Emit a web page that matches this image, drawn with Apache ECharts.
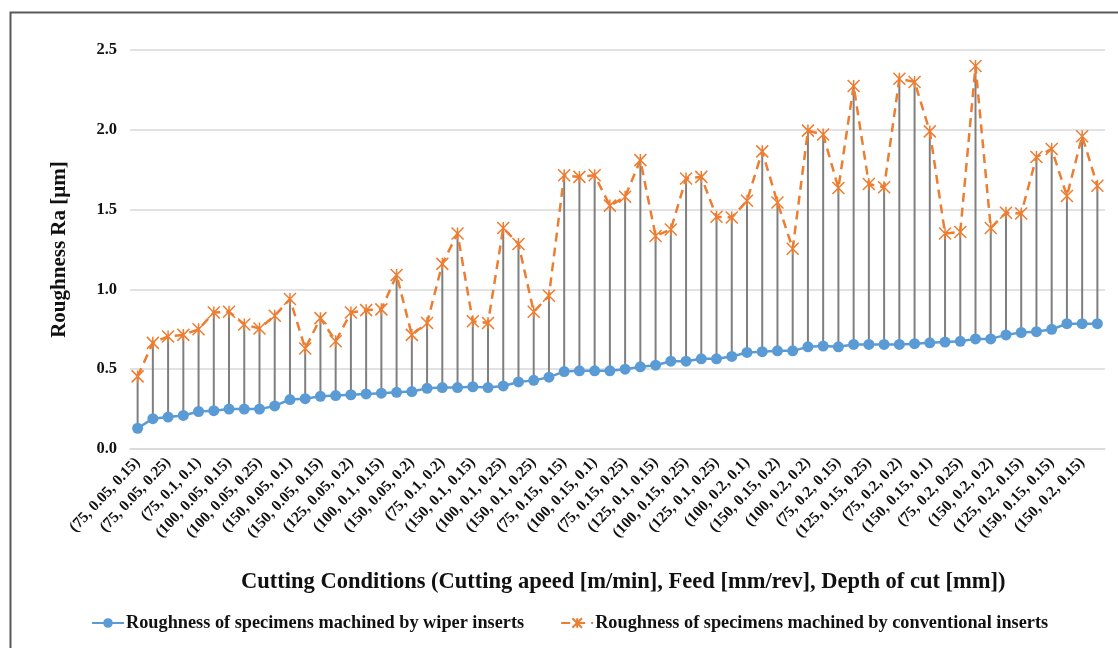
<!DOCTYPE html>
<html>
<head>
<meta charset="utf-8">
<script src="https://cdn.jsdelivr.net/npm/echarts@6/dist/echarts.min.js"></script>
<style>
html,body{margin:0;padding:0;background:#fff;}
#chart{width:1118px;height:648px;}
</style>
</head>
<body>
<div id="chart"></div>
<script>
const categories = [
 "(75, 0.05, 0.15)","(75, 0.05, 0.1)","(75, 0.05, 0.25)","(75, 0.05, 0.2)",
 "(75, 0.1, 0.1)","(100, 0.05, 0.1)","(100, 0.05, 0.15)","(100, 0.05, 0.2)",
 "(100, 0.05, 0.25)","(125, 0.05, 0.1)","(150, 0.05, 0.1)","(125, 0.05, 0.15)",
 "(150, 0.05, 0.15)","(125, 0.05, 0.25)","(125, 0.05, 0.2)","(150, 0.05, 0.25)",
 "(100, 0.1, 0.15)","(75, 0.1, 0.15)","(150, 0.05, 0.2)","(100, 0.1, 0.1)",
 "(75, 0.1, 0.2)","(75, 0.1, 0.25)","(150, 0.1, 0.15)","(100, 0.1, 0.2)",
 "(100, 0.1, 0.25)","(125, 0.1, 0.1)","(150, 0.1, 0.25)","(125, 0.1, 0.2)",
 "(75, 0.15, 0.15)","(150, 0.1, 0.1)","(100, 0.15, 0.1)","(150, 0.1, 0.2)",
 "(75, 0.15, 0.25)","(75, 0.15, 0.1)","(125, 0.1, 0.15)","(75, 0.15, 0.2)",
 "(100, 0.15, 0.25)","(100, 0.15, 0.15)","(125, 0.1, 0.25)","(100, 0.15, 0.2)",
 "(100, 0.2, 0.1)","(125, 0.15, 0.1)","(150, 0.15, 0.2)","(125, 0.15, 0.15)",
 "(100, 0.2, 0.2)","(125, 0.15, 0.2)","(75, 0.2, 0.15)","(150, 0.15, 0.25)",
 "(125, 0.15, 0.25)","(75, 0.2, 0.1)","(75, 0.2, 0.2)","(100, 0.2, 0.15)",
 "(150, 0.15, 0.1)","(100, 0.2, 0.25)","(75, 0.2, 0.25)","(125, 0.2, 0.1)",
 "(150, 0.2, 0.2)","(125, 0.2, 0.2)","(125, 0.2, 0.15)","(125, 0.2, 0.25)",
 "(150, 0.15, 0.15)","(150, 0.2, 0.1)","(150, 0.2, 0.15)","(150, 0.2, 0.25)"
];
const wiperValues = [
 0.13,0.19,0.20,0.21,0.235,0.24,0.25,0.25,0.25,0.27,0.31,0.315,0.33,0.335,0.34,0.345,
 0.35,0.355,0.36,0.38,0.385,0.385,0.39,0.385,0.395,0.42,0.43,0.45,0.485,0.49,0.49,0.49,
 0.50,0.515,0.525,0.55,0.55,0.565,0.565,0.58,0.605,0.61,0.615,0.615,0.64,0.645,0.64,0.655,
 0.655,0.655,0.655,0.66,0.665,0.67,0.675,0.69,0.69,0.715,0.73,0.735,0.75,0.785,0.785,0.785
];
const conventionalValues = [
 0.455,0.665,0.705,0.715,0.75,0.855,0.86,0.78,0.755,0.835,0.94,0.63,0.82,0.675,0.855,0.87,
 0.875,1.09,0.715,0.79,1.16,1.35,0.80,0.79,1.385,1.285,0.86,0.96,1.715,1.705,1.715,1.525,
 1.58,1.81,1.335,1.375,1.695,1.705,1.455,1.45,1.555,1.865,1.545,1.255,1.995,1.97,1.635,2.275,
 1.66,1.64,2.32,2.30,1.99,1.35,1.36,2.40,1.385,1.48,1.475,1.83,1.88,1.585,1.96,1.65
];
const yTicks = [0, 0.5, 1.0, 1.5, 2.0, 2.5];
const seriesNames = [
 "Roughness of specimens machined by wiper inserts",
 "Roughness of specimens machined by conventional inserts"
];

const serif = '"Liberation Serif", "DejaVu Serif", serif';
const chart = echarts.init(document.getElementById('chart'), null, {renderer: 'canvas'});
const hiLo = categories.map((c, i) => [i, wiperValues[i], conventionalValues[i]]);

chart.setOption({
  animation: false,
  backgroundColor: '#fff',
  grid: {left: 130, right: 13, top: 50, bottom: 199, containLabel: false},
  legend: {
    bottom: 11, left: 86,
    itemWidth: 32, itemHeight: 12, itemGap: 36,
    textStyle: {fontFamily: serif, fontWeight: 'bold', fontSize: 18.3, color: '#111', padding: [0, 0, 0, -3]},
    data: seriesNames
  },
  graphic: [
    {type: 'rect', left: 8, top: 10, silent: true,
     shape: {width: 1200, height: 700},
     style: {fill: 'none', stroke: '#595959', lineWidth: 2}},
    {type: 'text', left: 241, top: 571, silent: true,
     style: {text: 'Cutting Conditions (Cutting apeed [m/min], Feed [mm/rev], Depth of cut [mm])',
       font: 'bold 22.5px ' + serif, fill: '#111'}}
  ],
  xAxis: {
    type: 'category', data: categories, boundaryGap: true,
    axisLine: {show: true, lineStyle: {color: '#d9d9d9', width: 1.5}},
    axisTick: {show: false},
    axisLabel: {interval: 1, rotate: 47, margin: 11, fontFamily: serif, fontWeight: 'bold', fontSize: 15.5, color: '#111'}
  },
  yAxis: {
    type: 'value', min: 0, max: 2.5, interval: 0.5,
    name: 'Roughness Ra [µm]', nameLocation: 'middle', nameGap: 60, nameRotate: 90,
    nameTextStyle: {fontFamily: serif, fontWeight: 'bold', fontSize: 21, color: '#111'},
    axisLine: {show: false}, axisTick: {show: false},
    splitLine: {lineStyle: {color: '#d9d9d9', width: 1.5}},
    axisLabel: {margin: 13, fontFamily: serif, fontWeight: 'bold', fontSize: 16.5, color: '#111',
      formatter: v => yTicks.includes(+v.toFixed(1)) ? v.toFixed(1) : ''}
  },
  series: [
    {
      type: 'custom', name: 'hilo', silent: true, z: 1,
      data: hiLo,
      encode: {x: 0, y: [1, 2]},
      renderItem: (params, api) => {
        const p1 = api.coord([api.value(0), api.value(1)]);
        const p2 = api.coord([api.value(0), api.value(2)]);
        return {type: 'line', shape: {x1: p1[0], y1: p1[1], x2: p2[0], y2: p2[1]},
          style: {stroke: '#7f7f7f', lineWidth: 2}};
      }
    },
    {
      type: 'line', name: seriesNames[0], data: wiperValues, z: 3,
      symbol: 'circle', symbolSize: 11, showAllSymbol: true,
      itemStyle: {color: '#5B9BD5'},
      lineStyle: {color: '#5B9BD5', width: 2.5}
    },
    {
      type: 'line', name: seriesNames[1], data: conventionalValues, z: 3,
      symbol: 'path://M0,0L10,10M10,0L0,10M5,0L5,10', symbolSize: 12, showAllSymbol: true,
      itemStyle: {color: 'rgba(0,0,0,0)', borderColor: '#ED7D31', borderWidth: 1.5},
      lineStyle: {color: '#ED7D31', width: 2.5, type: [9, 6]}
    }
  ]
});
</script>
</body>
</html>
